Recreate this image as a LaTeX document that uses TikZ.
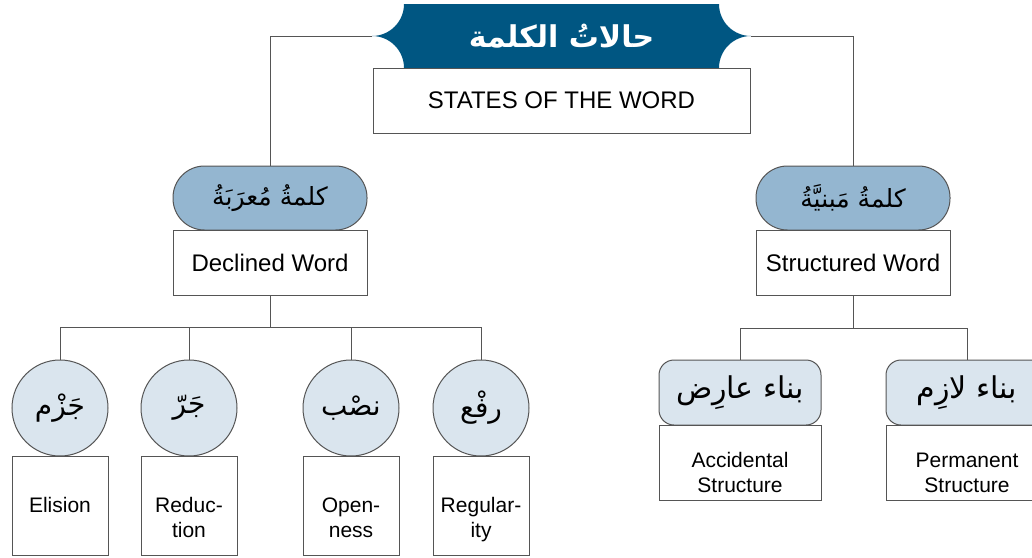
\documentclass[tikz,border=0pt]{standalone}
\usepackage{fontspec}
\setmainfont{Liberation Sans}
\newfontfamily\arabicfont[Script=Arabic]{DejaVu Sans}
\TeXXeTstate=1
\usetikzlibrary{positioning}
\definecolor{titleblue}{RGB}{0,86,130}
\definecolor{pillblue}{RGB}{148,182,208}
\definecolor{paleblue}{RGB}{218,229,238}
\definecolor{linegray}{RGB}{85,85,85}
\tikzset{wordbox/.style = {draw=linegray, line width=1pt, fill=white, inner sep=0pt, outer sep=0pt,
                           align=center, font=\fontsize{24}{28}\selectfont}}
\tikzset{smallbox/.style = {wordbox, font=\fontsize{21}{25}\selectfont}}
\tikzset{pill/.style = {draw=linegray, line width=1pt, fill=pillblue, rounded corners=31.5pt,
                        minimum width=194pt, minimum height=64pt, inner sep=0pt, outer sep=0pt,
                        font=\arabicfont\fontsize{25}{29}\selectfont}}
\tikzset{casecircle/.style = {circle, draw=linegray, line width=1pt, fill=paleblue, minimum size=96pt,
                              inner sep=0pt, outer sep=0pt, font=\arabicfont\fontsize{28}{32}\selectfont}}
\tikzset{kindbox/.style = {draw=linegray, line width=1pt, fill=paleblue, rounded corners=15pt,
                           minimum width=162pt, minimum height=65pt, inner sep=0pt, outer sep=0pt,
                           font=\arabicfont\fontsize{30}{34}\selectfont}}
\tikzset{link/.style = {draw=linegray, line width=1pt}}

\begin{document}
\begin{tikzpicture}[x=1pt, y=-1pt]
    \useasboundingbox (0, 0) rectangle (1032, 557);
    \fill [white] (0, 0) rectangle (1032, 557);
    \clip (0, 0) rectangle (1032, 557);

    % title banner
    \fill [titleblue] (404, 4) -- (719, 4)
      .. controls (719, 21.7) and (733.3, 36) .. (751, 36)
      .. controls (733.3, 36) and (719, 50.3) .. (719, 68) -- (404, 68)
      .. controls (404, 50.3) and (389.7, 36) .. (372, 36)
      .. controls (389.7, 36) and (404, 21.7) .. (404, 4) -- cycle;
    \node [minimum width=379pt, minimum height=64pt, inner sep=0pt, outer sep=0pt, text=white,
           font=\arabicfont\bfseries\fontsize{30}{34}\selectfont] (title) at (561.5, 36)
          {\beginR حالاتُ الكلمة\endR};
    \node [wordbox, minimum width=377pt, minimum height=65pt, below=0pt of title] (states)
          {STATES OF THE WORD};

    \node [pill] (declpill) at (270, 198) {\beginR كلمةُ مُعرَبَةُ\endR};
    \node [wordbox, minimum width=194pt, minimum height=65pt, below=0pt of declpill] (declbox)
          {Declined Word};
    \node [pill] (strpill) at (853, 198) {\beginR كلمةُ مَبنيَّةُ\endR};
    \node [wordbox, minimum width=194pt, minimum height=65pt, below=0pt of strpill] (strbox)
          {Structured Word};

    \draw [link] (title.west) -| (declpill.north);
    \draw [link] (title.east) -| (strpill.north);

    \coordinate (declfork) at (270, 327);
    \coordinate (strfork) at (853, 328);

    \foreach \i/\x/\ar/\en in {1/60/{جَزْم}/{Elision\\\strut}, 2/189/{جَرّ}/{Reduc-\\tion},
                               3/351/{نصْب}/{Open-\\ness}, 4/481/{رفْع}/{Regular-\\ity}} {
      \node [casecircle] (case\i) at (\x, 408) {\beginR\ar\endR};
      \node [smallbox, minimum width=96pt, minimum height=99pt, text height=70pt, text depth=7pt,
             below=0pt of case\i] (casebox\i) {\en};
      \draw [link] (declbox.south) -- (declfork) -| (case\i.north);
    }

    \node [kindbox] (acc) at (740, 392.5) {\beginR بناء عارِض\endR};
    \node [smallbox, minimum width=162pt, minimum height=75pt, text height=66pt, text depth=7pt,
           below=0pt of acc] (accbox) {Accidental\\Structure};
    \node [kindbox] (perm) at (967, 392.5) {\beginR بناء لازِم\endR};
    \node [smallbox, minimum width=162pt, minimum height=75pt, text height=66pt, text depth=7pt,
           below=0pt of perm] (permbox) {Permanent\\Structure};

    \draw [link] (strbox.south) -- (strfork) -| (acc.north);
    \draw [link] (strfork) -| (perm.north);
\end{tikzpicture}
\end{document}
